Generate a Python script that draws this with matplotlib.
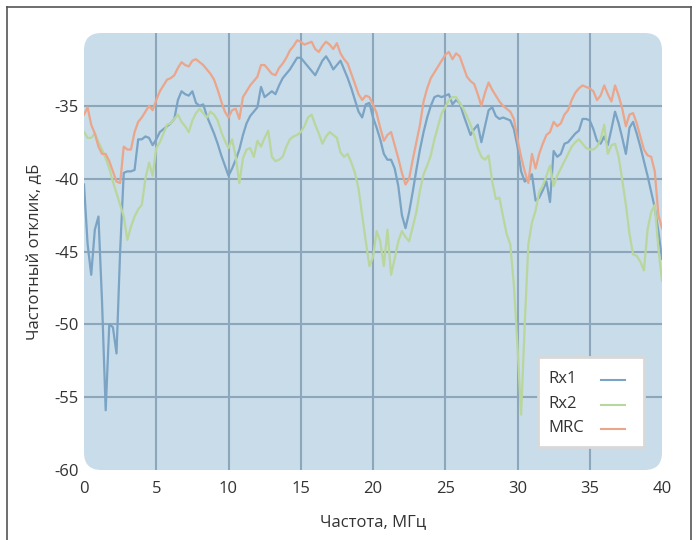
import numpy as np
import matplotlib
matplotlib.use("Agg")
import matplotlib.pyplot as plt
from matplotlib.patches import FancyBboxPatch, Rectangle
from matplotlib.lines import Line2D

plt.rcParams['font.family'] = ['Open Sans', 'DejaVu Sans']
plt.rcParams['axes.unicode_minus'] = False

# частотная сетка, МГц (шаг 0.25)
freq = np.arange(0, 40.001, 0.25)

# значения по строкам: каждая строка - 1 МГц (4 точки)
rx1 = [
    -40.4, -44.5, -46.6, -43.5,
    -42.6, -48.5, -55.9, -50.0,
    -50.2, -52.0, -45.0, -39.6,
    -39.5, -39.5, -39.4, -37.3,
    -37.3, -37.1, -37.2, -37.7,
    -37.3, -36.8, -36.6, -36.4,
    -36.2, -35.9, -34.6, -34.0,
    -34.2, -34.3, -34.0, -34.8,
    -35.0, -34.9, -35.7, -36.3,
    -36.9, -37.6, -38.4, -39.1,
    -39.8, -39.3, -38.7, -38.0,
    -37.0, -36.2, -35.7, -35.4,
    -35.1, -33.7, -34.4, -34.2,
    -34.0, -34.2, -33.6, -33.1,
    -32.8, -32.5, -32.1, -31.7,
    -31.7, -32.0, -32.3, -32.6,
    -32.9, -32.4, -31.9, -31.6,
    -32.0, -32.5, -32.2, -31.9,
    -32.5, -33.1, -33.8, -34.6,
    -35.4, -35.8, -34.9, -34.8,
    -35.8, -36.5, -37.3, -38.3,
    -38.7, -38.7, -39.3, -40.5,
    -42.5, -43.4, -42.3, -40.9,
    -39.4, -38.0, -36.8, -35.8,
    -35.0, -34.4, -34.3, -34.4,
    -34.3, -34.2, -34.9, -34.6,
    -34.8, -35.6, -36.3, -37.0,
    -36.6, -36.3, -37.5, -36.4,
    -35.3, -35.1, -35.7, -35.9,
    -35.8, -35.9, -36.0, -36.6,
    -37.8, -39.5, -40.2, -40.0,
    -39.7, -41.5, -41.3, -40.8,
    -40.2, -41.6, -38.1, -38.5,
    -38.3, -37.6, -37.5, -37.2,
    -36.9, -36.7, -35.9, -35.9,
    -36.0, -36.6, -37.4, -37.6,
    -37.1, -37.7, -36.6, -35.4,
    -36.2, -37.2, -38.3, -36.5,
    -36.1, -36.9, -37.8, -38.8,
    -39.8, -40.9, -42.0, -43.6,
    -45.5,
]

rx2 = [
    -36.8, -37.2, -37.2, -36.9,
    -37.5, -38.0, -38.6, -39.3,
    -40.2, -41.0, -41.8, -42.6,
    -44.2, -43.3, -42.6, -42.1,
    -41.8, -40.0, -38.9, -39.8,
    -37.9, -37.5, -36.9, -36.3,
    -36.2, -35.9, -35.6, -36.1,
    -36.4, -36.8, -36.0, -35.5,
    -35.2, -35.5, -35.8, -35.4,
    -35.6, -36.0, -36.8, -37.4,
    -37.9, -37.3, -38.5, -40.3,
    -38.6, -38.0, -37.9, -38.5,
    -37.4, -37.8, -37.2, -36.7,
    -38.5, -38.8, -38.7, -38.5,
    -37.8, -37.3, -37.1, -37.0,
    -36.8, -36.4, -35.8, -35.6,
    -36.3, -36.9, -37.6, -37.1,
    -36.8, -37.0, -37.2, -38.2,
    -38.5, -38.3, -38.9, -39.6,
    -40.7, -42.5, -44.3, -46.0,
    -45.4, -43.6, -44.3, -46.0,
    -43.5, -46.6, -45.5, -44.3,
    -43.6, -44.0, -44.3, -43.3,
    -42.3, -40.8, -39.7, -39.1,
    -38.4, -37.3, -36.4, -35.5,
    -35.1, -34.6, -34.4, -34.4,
    -34.8, -35.2, -35.7, -36.3,
    -37.0, -37.9, -38.5, -38.7,
    -38.4, -40.2, -41.4, -41.3,
    -42.6, -43.8, -44.5, -47.3,
    -51.5, -56.2, -50.0, -44.5,
    -43.0, -42.2, -40.9, -40.5,
    -39.8, -39.1, -40.5, -39.8,
    -39.3, -38.8, -38.3, -37.8,
    -37.5, -37.3, -37.6, -37.9,
    -38.0, -38.0, -37.8, -37.3,
    -36.3, -38.3, -37.7, -37.6,
    -38.5, -40.1, -41.8, -43.8,
    -45.2, -45.3, -45.7, -46.3,
    -43.5, -42.3, -41.8, -44.8,
    -47.0,
]

mrc = [
    -35.6, -35.1, -36.3, -36.9,
    -37.8, -38.3, -38.3, -38.8,
    -39.5, -40.2, -40.3, -37.8,
    -38.0, -38.0, -36.8, -36.1,
    -35.8, -35.4, -35.0, -35.3,
    -34.6, -34.0, -33.6, -33.2,
    -33.1, -32.9, -32.4, -32.0,
    -32.2, -32.3, -31.9, -31.8,
    -32.0, -32.2, -32.5, -32.8,
    -33.2, -33.9, -34.7, -35.4,
    -35.8, -35.3, -35.2, -35.9,
    -34.4, -34.0, -33.6, -33.3,
    -33.0, -32.2, -32.2, -32.5,
    -32.8, -32.9, -32.4, -32.1,
    -31.7, -31.2, -30.9, -30.5,
    -30.6, -30.8, -30.7, -30.6,
    -31.1, -31.3, -30.9, -30.6,
    -30.8, -31.1, -30.7, -31.4,
    -31.8, -32.1, -32.8, -33.5,
    -34.2, -34.6, -34.3, -34.4,
    -34.9, -35.5, -36.5, -37.4,
    -37.0, -36.8, -37.7, -38.6,
    -39.6, -40.4, -40.0, -38.7,
    -37.5, -36.3, -34.7, -33.8,
    -33.1, -32.7, -32.3, -31.9,
    -31.5, -31.3, -31.8, -31.4,
    -31.6, -32.3, -33.0, -33.3,
    -33.5, -34.2, -35.0, -34.1,
    -33.4, -33.9, -34.3, -34.7,
    -35.0, -35.2, -35.4, -35.9,
    -37.3, -38.5, -39.5, -40.3,
    -38.3, -39.3, -38.3, -37.6,
    -37.0, -36.8, -36.1, -36.4,
    -36.2, -35.6, -35.3, -34.6,
    -34.1, -33.8, -33.6, -33.7,
    -33.8, -34.0, -34.6, -34.3,
    -33.6, -34.2, -34.7, -33.6,
    -34.3, -35.2, -36.4, -35.6,
    -35.5, -36.2, -37.1, -38.0,
    -38.4, -38.5, -39.5, -42.5,
    -43.4,
]

labels = ['Rx1', 'Rx2', 'MRC']
colors = ['#7aa3c4', '#b9d69c', '#eba58a']

W, H = 696, 540
fig = plt.figure(figsize=(6.96, 5.4), dpi=100)
ax = fig.add_axes([84/W, 1 - 470/H, 578/W, 437/H])
ax.patch.set_alpha(0)

# скруглённая подложка графика
panel = FancyBboxPatch((0, 0), 1, 1, boxstyle="round,pad=0,rounding_size=0.03",
                       transform=ax.transAxes, facecolor='#c9dcea', edgecolor='none',
                       zorder=0, mutation_aspect=578/437)
ax.add_patch(panel)

for gx in range(5, 40, 5):
    ax.axvline(gx, color='#8ca7bb', lw=1.5, zorder=1)
for gy in range(-55, -30, 5):
    ax.axhline(gy, color='#8ca7bb', lw=1.5, zorder=1)

for vals, lab, col in zip([rx1, rx2, mrc], labels, colors):
    ax.plot(freq[:len(vals)], vals, color=col, lw=1.6, label=lab, zorder=3)

ax.set_xlim(0, 40)
ax.set_ylim(-60, -30)
ax.set_xticks(range(0, 41, 5))
ax.set_yticks(range(-60, -34, 5))
ax.tick_params(length=0, labelsize=12, colors='#333333')
ax.tick_params(axis='x', pad=8)
ax.tick_params(axis='y', pad=4)
for s in ax.spines.values():
    s.set_visible(False)

ax.set_xlabel('Частота, МГц', fontsize=12, color='#333333', labelpad=12)
ax.set_ylabel('Частотный отклик, дБ', fontsize=12, color='#333333', labelpad=8)

# легенда: подписи слева, короткие линии справа
def fx(px):
    return px / W

def fy(py):
    return 1 - py / H

fig.add_artist(Rectangle((fx(538), fy(447)), fx(106), 90 / H, transform=fig.transFigure,
                         facecolor='white', edgecolor='#d8d8d8', lw=2, zorder=5))
for i, (lab, col) in enumerate(zip(labels, colors)):
    yy = 379 + i * 24.5
    fig.text(fx(548), fy(yy), lab, fontsize=12, color='#333333', va='center',
             ha='left', zorder=6)
    fig.add_artist(Line2D([fx(601), fx(625)], [fy(yy + 1), fy(yy + 1)], color=col,
                          lw=1.5, transform=fig.transFigure, zorder=6))

# внешняя рамка
fr = dict(color='#555555', lw=1.2, transform=fig.transFigure)
fig.add_artist(Line2D([fx(7), fx(7)], [0, fy(7)], **fr))
fig.add_artist(Line2D([fx(7), fx(691)], [fy(7), fy(7)], **fr))
fig.add_artist(Line2D([fx(691), fx(691)], [0, fy(7)], **fr))

fig.savefig('out.png', dpi=100)
